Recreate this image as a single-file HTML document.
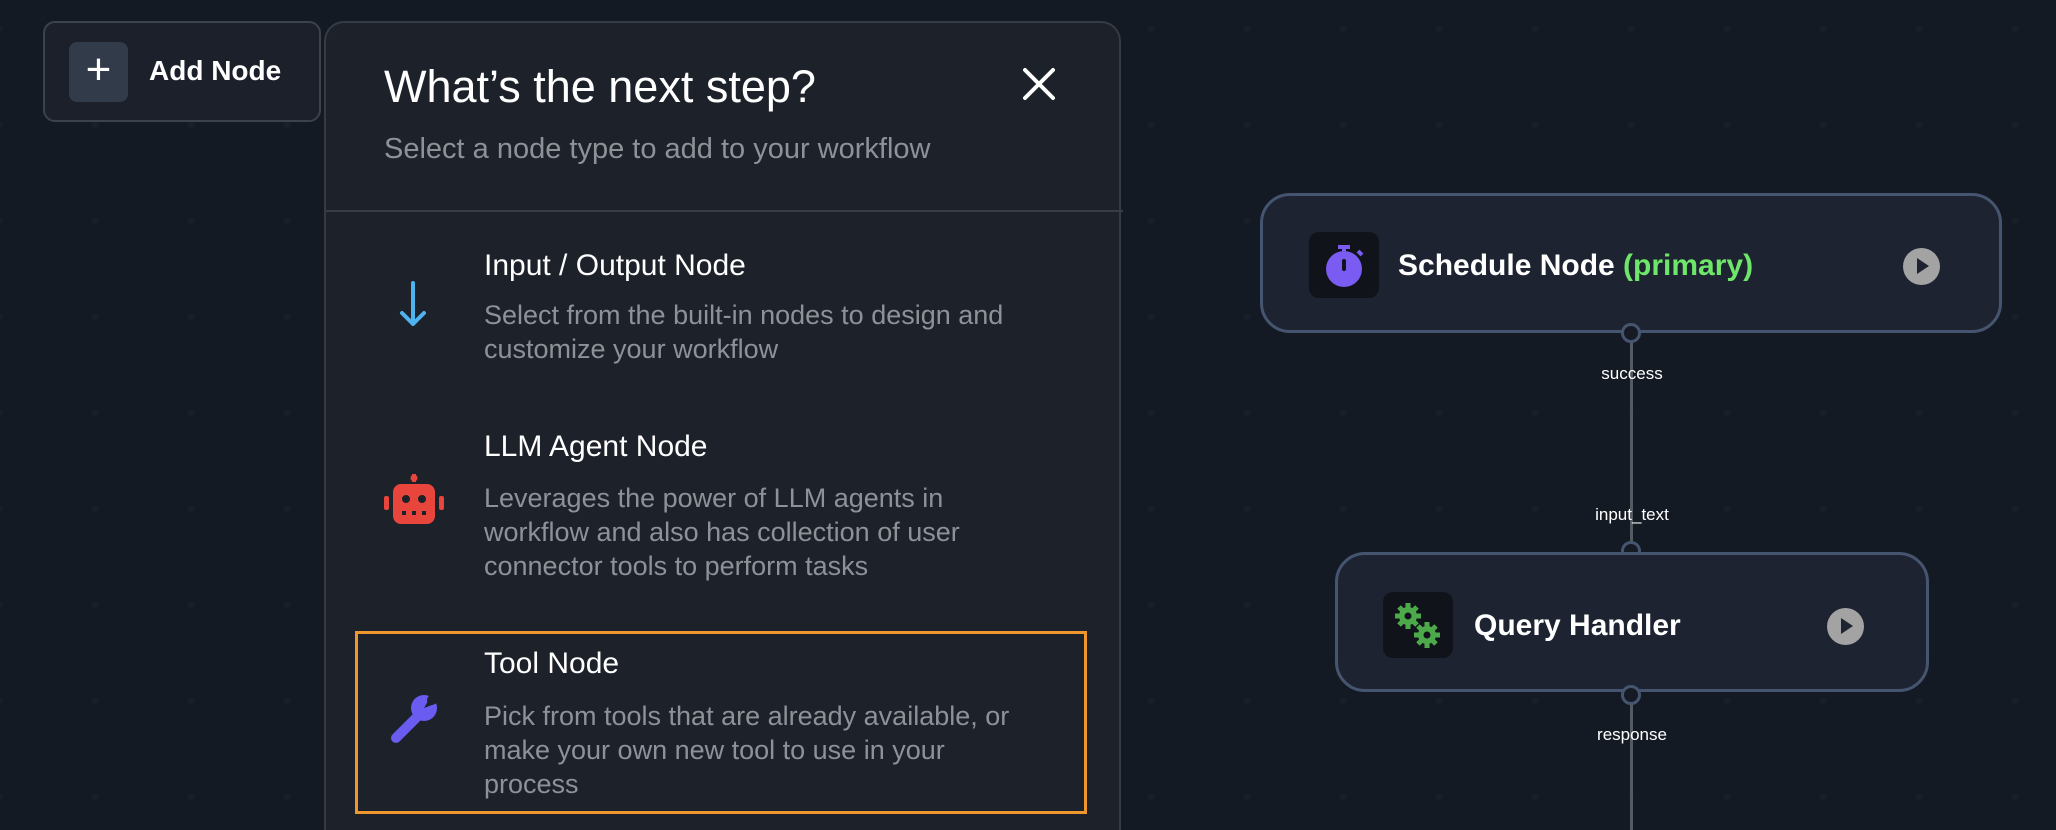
<!DOCTYPE html>
<html style="width:2056px;height:830px;overflow:hidden"><head><meta charset="utf-8"><style>
*{margin:0;padding:0;box-sizing:border-box}
body{width:2056px;height:830px;overflow:hidden;background:#141a24;font-family:"Liberation Sans",sans-serif;position:relative;
background-image:radial-gradient(circle,#181f2a 3px,transparent 3.5px);background-size:96px 96px;background-position:-49px -19px}
.abs{position:absolute}
.addbtn{left:43px;top:21px;width:278px;height:101px;border:2px solid #3d424a;border-radius:12px;background:#1b202a}
.plus{left:24px;top:19px;width:59px;height:60px;background:#323b4a;border-radius:8px;color:#fff;font-size:44px;line-height:56px;text-align:center}
.addtxt{left:104px;top:32px;color:#fff;font-weight:bold;font-size:28px}
.panel{left:324px;top:21px;width:797px;height:809px;background:#1d2129;border:2px solid #363a42;border-bottom:none;border-radius:20px 20px 0 0}
.title{left:58px;top:38px;color:#fff;font-size:45px}
.close{left:696px;top:44px}
.sub{left:58px;top:110px;color:#8e9298;font-size:29px}
.div{left:0;top:187px;width:797px;height:2px;background:#383c43}
.it{color:#fff;font-size:30px}
.ds{color:#8e9298;font-size:27px;line-height:34px}
.tool{left:355px;top:631px;width:732px;height:183px;border:3px solid #f0962e}
.node{border:3px solid #46556f;background:#1d2330;border-radius:30px}
.ico{background:#10131a;border-radius:10px;width:70px;height:66px}
.nt{color:#fff;font-weight:bold;font-size:30px}
.play{width:37px;height:37px;border-radius:50%;background:#a3a3a3}
.play:after{content:"";position:absolute;left:14px;top:10px;border-left:12px solid #1d2330;border-top:8.5px solid transparent;border-bottom:8.5px solid transparent}
.h{width:20px;height:20px;border-radius:50%;border:3px solid #46556f;background:#151a24}
.lbl{color:#fff;font-size:17px;width:200px;text-align:center}
</style></head><body>
<div class="abs" style="left:1630px;top:333px;width:3px;height:497px;background:#555a60"></div>

<div class="abs addbtn"><div class="abs plus">+</div><div class="abs addtxt">Add Node</div></div>

<div class="abs panel">
 <div class="abs title">What’s the next step?</div>
 <svg class="abs close" width="34" height="34" viewBox="0 0 34 34"><path d="M3 3L31 31M31 3L3 31" stroke="#fff" stroke-width="4" stroke-linecap="round"/></svg>
 <div class="abs sub">Select a node type to add to your workflow</div>
 <div class="abs div"></div>
</div>

<svg class="abs" style="left:398px;top:280px" width="30" height="48" viewBox="0 0 30 48"><path d="M15 3V44M4 33L15 44L26 33" stroke="#4fb3f0" stroke-width="4" fill="none" stroke-linecap="round" stroke-linejoin="round"/></svg>
<div class="abs it" style="left:484px;top:249px">Input / Output Node</div>
<div class="abs ds" style="left:484px;top:298px">Select from the built-in nodes to design and<br>customize your workflow</div>

<svg class="abs" style="left:383px;top:474px" width="62" height="52" viewBox="0 0 62 52"><rect x="29" y="0" width="4" height="8" fill="#e8453c"/><circle cx="31" cy="4" r="3.5" fill="#e8453c"/><rect x="10" y="10" width="42" height="40" rx="8" fill="#e8453c"/><rect x="1" y="22" width="5" height="14" rx="2" fill="#e8453c"/><rect x="56" y="22" width="5" height="14" rx="2" fill="#e8453c"/><circle cx="23" cy="25" r="4" fill="#1d2129"/><circle cx="39" cy="25" r="4" fill="#1d2129"/><rect x="19" y="37" width="4" height="4" fill="#1d2129"/><rect x="29" y="37" width="4" height="4" fill="#1d2129"/><rect x="39" y="37" width="4" height="4" fill="#1d2129"/></svg>
<div class="abs it" style="left:484px;top:430px">LLM Agent Node</div>
<div class="abs ds" style="left:484px;top:481px">Leverages the power of LLM agents in<br>workflow and also has collection of user<br>connector tools to perform tasks</div>

<div class="abs tool"></div>
<svg class="abs" style="left:388px;top:692px" width="52" height="52" viewBox="0 0 52 52"><path d="M8 46L30 24" stroke="#6a5cf0" stroke-width="10" stroke-linecap="round"/><circle cx="36" cy="16" r="13" fill="#6a5cf0"/><path d="M36 16L44 2L52 10Z" fill="#1d2129"/><circle cx="44" cy="8" r="5" fill="#1d2129"/></svg>
<div class="abs it" style="left:484px;top:647px">Tool Node</div>
<div class="abs ds" style="left:484px;top:699px">Pick from tools that are already available, or<br>make your own new tool to use in your<br>process</div>

<div class="abs node" style="left:1260px;top:193px;width:742px;height:140px">
 <div class="abs ico" style="left:46px;top:36px"><svg width="70" height="66" viewBox="0 0 70 66"><rect x="29" y="13" width="12" height="4" fill="#7b5cf2"/><rect x="33" y="15" width="4" height="6" fill="#7b5cf2"/><circle cx="35" cy="37" r="18" fill="#7b5cf2"/><rect x="33" y="27" width="4" height="12" rx="2" fill="#10131a"/><path d="M49 19l4 4" stroke="#7b5cf2" stroke-width="4"/></svg></div>
 <div class="abs nt" style="left:135px;top:53px">Schedule Node <span style="color:#6ee66a">(primary)</span></div>
 <div class="abs play" style="left:640px;top:52px"></div>
</div>
<div class="abs h" style="left:1621px;top:323px"></div>
<div class="abs lbl" style="left:1532px;top:364px">success</div>
<div class="abs lbl" style="left:1532px;top:505px">input_text</div>
<div class="abs h" style="left:1621px;top:541px"></div>

<div class="abs node" style="left:1335px;top:552px;width:594px;height:140px">
 <div class="abs ico" style="left:45px;top:37px"><svg width="70" height="66" viewBox="0 0 70 66"><g fill="#4caa4a"><circle cx="25" cy="24" r="9"/><circle cx="44" cy="43" r="9"/><g stroke="#4caa4a" stroke-width="5"><path d="M25 11v26M12 24h26M16 15l18 18M34 15L16 33"/><path d="M44 30v26M31 43h26M35 34l18 18M53 34L35 52"/></g></g><circle cx="25" cy="24" r="3.5" fill="#10131a"/><circle cx="44" cy="43" r="3.5" fill="#10131a"/></svg></div>
 <div class="abs nt" style="left:136px;top:54px">Query Handler</div>
 <div class="abs play" style="left:489px;top:53px"></div>
</div>
<div class="abs h" style="left:1621px;top:685px"></div>
<div class="abs lbl" style="left:1532px;top:725px">response</div>
</body></html>
